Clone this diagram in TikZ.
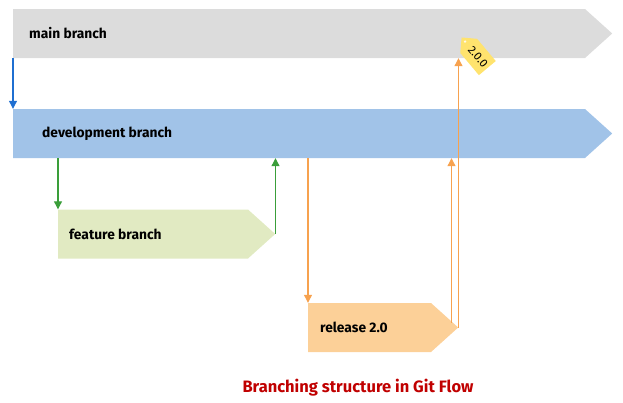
\documentclass[tikz,border=0pt]{standalone}
\usepackage{fontspec}
\setmainfont{Fira Sans}
\usetikzlibrary{arrows.meta,shapes.symbols,positioning,calc}

\definecolor{maingray}{HTML}{DCDCDC}
\definecolor{devblue}{HTML}{A1C3E8}
\definecolor{featgreen}{HTML}{E1EAC2}
\definecolor{relorange}{HTML}{FCD098}
\definecolor{arrblue}{HTML}{1F6FD1}
\definecolor{arrgreen}{HTML}{3A9E3A}
\definecolor{arrorange}{HTML}{F7A24F}
\definecolor{tagyellow}{HTML}{FFE36E}
\definecolor{titlered}{HTML}{C00000}

\tikzset{
    branch/.style={signal, signal to=east, signal pointer angle=84
        , inner sep=0pt, minimum height=49pt, anchor=west},
    blabel/.style={font=\bfseries\fontsize{13.8}{16}\selectfont, inner sep=0pt, anchor=west},
    flow/.style={-{Triangle[width=8pt,length=8pt]}, line width=1.1pt},
}

\begin{document}
\begin{tikzpicture}[x=1pt, y=-1pt
        , every node/.style={}
    ]
    \useasboundingbox (0,0) rectangle (623,402);

    %% branches
    \node[branch, fill=maingray, minimum width=599pt] (main) at (13,33.5) {};
    \node[branch, fill=devblue, minimum width=599pt] (dev) at (13,133.5) {};
    \node[branch, fill=featgreen, minimum width=217pt] (feature) at (58,234) {};
    \node[branch, fill=relorange, minimum width=150pt] (release) at (308,327.5) {};

    % labels
    \node[blabel, right=16pt of main.west] (mainlbl) {main branch};
    \node[blabel, right=29pt of dev.west] (devlbl) {development branch};
    \node[blabel, right=11pt of feature.west] (featlbl) {feature branch};
    \node[blabel, right=12pt of release.west] (rellbl) {release 2.0};

    % connectors
    \draw[flow, arrblue] (main.south west) -- (dev.north west);
    \draw[flow, arrgreen] (feature.north west |- dev.south) -- (feature.north west);
    \draw[flow, arrgreen] (feature.east) -- (feature.east |- dev.south);
    \draw[flow, arrorange] (release.north west |- dev.south) -- (release.north west);
    \coordinate (relback) at ($(release.east)+(-7,-5)$);
    \draw[flow, arrorange] (relback) -- (relback |- dev.south);
    \draw[flow, arrorange] (release.east) -- (release.east |- main.south);

    % version tag
    \node[signal, signal to=west, signal pointer angle=90, fill=tagyellow
        , inner sep=2.5pt, minimum height=22pt, minimum width=40pt, rotate=-50
        , font=\fontsize{11.5}{13}\selectfont] (tag) at (478,57) {2.0.0};
    \fill[white!85!tagyellow] ($(tag.west)!0.22!(tag.center)$) circle (1.3pt);

    % caption
    \node[font=\bfseries\fontsize{16.5}{19}\selectfont, text=titlered] (caption) at (358,388) {Branching structure in Git Flow};
\end{tikzpicture}
\end{document}
